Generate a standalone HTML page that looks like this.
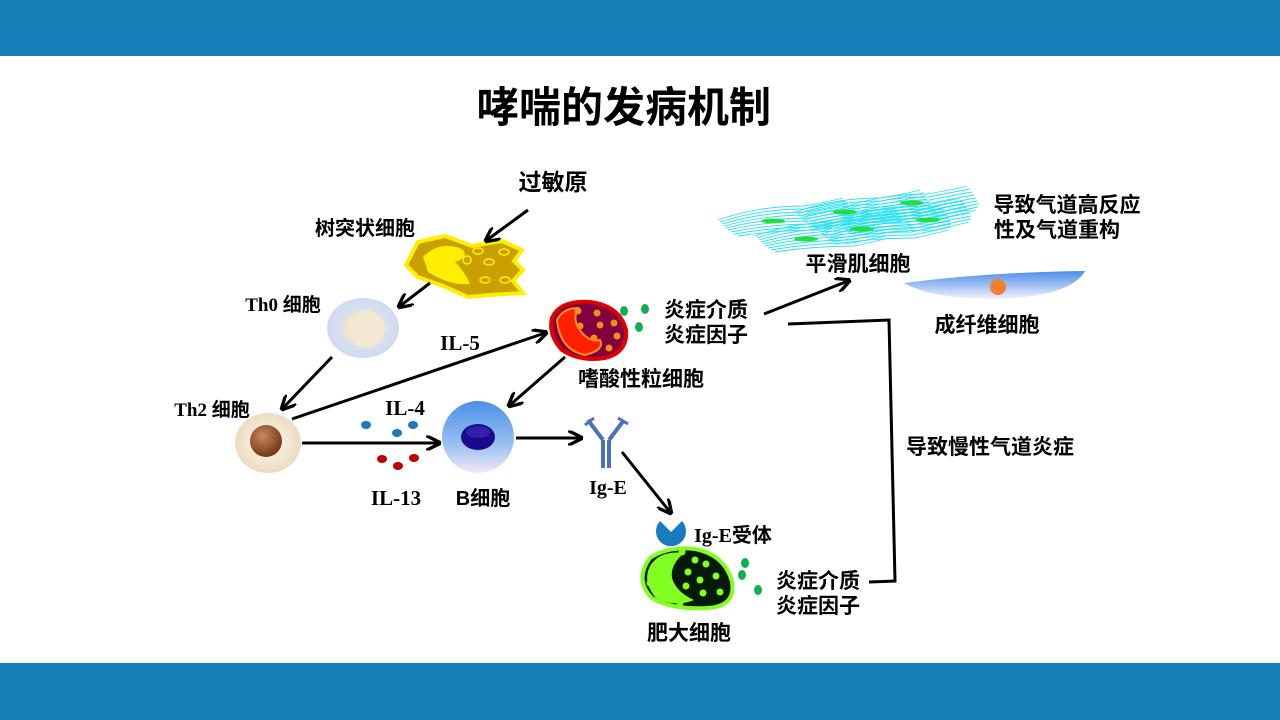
<!DOCTYPE html>
<html><head><meta charset="utf-8"><style>
html,body{margin:0;padding:0;background:#fff;}
svg{display:block}
text{font-family:"Liberation Sans","Noto Sans CJK SC",sans-serif;font-weight:bold;fill:#000}
.s{font-family:"Liberation Serif","Noto Sans CJK SC",serif}
</style></head><body>
<svg width="1280" height="720" viewBox="0 0 1280 720" xmlns="http://www.w3.org/2000/svg">
<defs>
<marker id="a" viewBox="0 0 10 10" refX="8" refY="5" markerWidth="5" markerHeight="5" orient="auto"><path d="M0,0 L10,5 L0,10" fill="none" stroke="#000" stroke-width="2.2"/></marker>
<radialGradient id="th0" cx="50%" cy="50%" r="50%"><stop offset="0" stop-color="#f3ecd8"/><stop offset="0.55" stop-color="#eee3c8"/><stop offset="0.6" stop-color="#d8e0f0"/><stop offset="1" stop-color="#d0daf0"/></radialGradient>
<radialGradient id="th2" cx="50%" cy="50%" r="50%"><stop offset="0" stop-color="#fdfaf0"/><stop offset="1" stop-color="#ecdcc0"/></radialGradient>
<radialGradient id="nuc" cx="40%" cy="35%" r="60%"><stop offset="0" stop-color="#c88a5a"/><stop offset="1" stop-color="#7a3e1c"/></radialGradient>
<linearGradient id="bc" x1="0" y1="0" x2="0" y2="1"><stop offset="0" stop-color="#4a90e8"/><stop offset="0.6" stop-color="#9ac0f0"/><stop offset="1" stop-color="#f0e8f8"/></linearGradient>
<linearGradient id="fb" x1="0" y1="0" x2="0" y2="1"><stop offset="0" stop-color="#4a8ee8"/><stop offset="1" stop-color="#f4f0ff"/></linearGradient>
<g id="sm" fill="none" stroke="#30e0f0" stroke-width="0.9">
<path d="M0,22 Q40,8 85,8 Q110,4 125,0"/>
<path d="M2,24 Q42,11 86,11 Q112,6 128,3"/>
<path d="M4,26 Q44,14 88,14 Q113,9 130,6"/>
<path d="M6,28 Q46,17 90,17 Q115,12 132,9"/>
<path d="M8,30 Q48,20 92,20 Q117,15 134,12"/>
<path d="M10,32 Q50,23 94,23 Q118,18 135,15"/>
<path d="M13,34 Q53,26 96,26 Q120,21 136,18"/>
<path d="M16,36 Q56,29 98,29 Q121,24 136,21"/>
<path d="M20,38 Q60,32 100,32 Q122,27 134,24"/>
</g>
</defs>
<rect x="0" y="0" width="1280" height="56" fill="#1580b8"/>
<rect x="0" y="663" width="1280" height="57" fill="#1580b8"/>
<text x="624" y="122" font-size="42" text-anchor="middle">哮喘的发病机制</text>

<text x="553" y="190" font-size="23" text-anchor="middle">过敏原</text>
<text x="365" y="235" font-size="20" text-anchor="middle">树突状细胞</text>
<path d="M418,242 L445,236 L472,246 L502,241 L522,250 L514,261 L523,270 L513,281 L523,293 L490,295 L468,297 L443,286 L418,277 L406,265 Z" fill="#c9a000" stroke="#ffee00" stroke-width="4"/>
<path d="M423,257 Q440,240 462,249 Q470,257 455,262 Q465,272 470,284 Q450,286 428,272 Z" fill="#ffee00"/>
<g fill="none" stroke="#ffee00" stroke-width="1.5"><ellipse cx="478" cy="251" rx="5" ry="3"/><ellipse cx="467" cy="260" rx="4" ry="4"/><ellipse cx="489" cy="262" rx="5" ry="3"/><ellipse cx="504" cy="252" rx="5" ry="3"/><ellipse cx="485" cy="280" rx="5" ry="3"/><ellipse cx="505" cy="280" rx="5" ry="3"/></g>

<text x="283" y="311" font-size="19" text-anchor="middle" class="s">Th0 <tspan font-family="Liberation Sans,Noto Sans CJK SC">细胞</tspan></text>
<ellipse cx="363" cy="328" rx="36" ry="30" fill="url(#th0)"/>
<circle cx="366" cy="329" r="19" fill="#f2e8cf"/>

<text x="212" y="416" font-size="19" text-anchor="middle" class="s">Th2 <tspan font-family="Liberation Sans,Noto Sans CJK SC">细胞</tspan></text>
<ellipse cx="268" cy="443" rx="33" ry="30" fill="url(#th2)"/>
<circle cx="266" cy="441" r="16" fill="url(#nuc)"/>

<text x="460" y="350" font-size="21" text-anchor="middle" class="s">IL-5</text>
<text x="405" y="415" font-size="21" text-anchor="middle" class="s">IL-4</text>
<text x="396" y="505" font-size="21" text-anchor="middle" class="s">IL-13</text>
<g fill="#1a7ac0"><ellipse cx="366" cy="425" rx="5" ry="4"/><ellipse cx="397" cy="433" rx="5" ry="4"/><ellipse cx="413" cy="425" rx="5" ry="4"/></g>
<g fill="#c00000"><ellipse cx="382" cy="459" rx="5" ry="4"/><ellipse cx="398" cy="466" rx="5" ry="4"/><ellipse cx="414" cy="458" rx="5" ry="4"/></g>

<circle cx="478" cy="437" r="36" fill="url(#bc)"/>
<ellipse cx="478" cy="437" rx="17" ry="13" fill="#1a0a8a"/>
<ellipse cx="478" cy="432" rx="12" ry="6" fill="#3020b0"/>
<text x="483" y="505" font-size="20" text-anchor="middle">B细胞</text>

<path d="M552,318 Q560,300 590,302 Q620,306 626,330 Q628,352 605,358 Q580,362 562,350 Q548,335 552,318Z" fill="#800040" stroke="#e00000" stroke-width="4"/>
<path d="M557,320 Q563,308 578,308 Q572,320 580,330 Q588,342 600,340 Q605,350 585,355 Q560,350 557,320Z" fill="#ff2000" stroke="#ff9020" stroke-width="2"/>
<g fill="#f0901a"><circle cx="578" cy="311" r="3.5"/><circle cx="597" cy="313" r="3.5"/><circle cx="580" cy="326" r="3.5"/><circle cx="600" cy="325" r="3.5"/><circle cx="614" cy="323" r="3.5"/><circle cx="594" cy="338" r="3.5"/><circle cx="617" cy="336" r="3.5"/><circle cx="609" cy="348" r="3.5"/></g>
<g fill="#10b050"><ellipse cx="624" cy="311" rx="4" ry="5"/><ellipse cx="645" cy="309" rx="4" ry="5"/><ellipse cx="639" cy="327" rx="4" ry="5"/></g>
<text x="641" y="386" font-size="21" text-anchor="middle">嗜酸性粒细胞</text>
<text x="706" y="317" font-size="21" text-anchor="middle">炎症介质</text>
<text x="706" y="342" font-size="21" text-anchor="middle">炎症因子</text>

<g stroke="#4a70c0" stroke-width="4" fill="none"><path d="M603,440 L603,468 M609,440 L609,468"/><path d="M603,440 L588,420 M609,440 L624,420"/><path d="M594,418 L585,425 M618,418 L628,424" stroke-width="3"/></g>
<text x="608" y="494" font-size="20" text-anchor="middle" class="s">Ig-E</text>

<path d="M660,521 L671,532 L682,521 A15,15 0 1 1 660,521 Z" fill="#1a7ac0"/>
<text x="733" y="542" font-size="20" text-anchor="middle" class="s">Ig-E<tspan font-family="Liberation Sans,Noto Sans CJK SC">受体</tspan></text>
<path d="M650,558 Q668,546 695,549 Q725,555 732,582 Q736,606 708,608 Q672,610 652,598 Q634,580 650,558Z" fill="#051a05" stroke="#80ff20" stroke-width="4"/>
<path d="M650,566 Q660,550 684,553 Q670,565 672,578 Q676,592 694,600 Q675,608 656,598 Q642,582 650,566Z" fill="#80ff20"/>
<g fill="#80ff20"><circle cx="682" cy="552" r="3.5"/><circle cx="695" cy="560" r="3.5"/><circle cx="688" cy="572" r="3.5"/><circle cx="706" cy="564" r="3.5"/><circle cx="700" cy="580" r="3.5"/><circle cx="716" cy="576" r="3.5"/><circle cx="703" cy="593" r="3.5"/><circle cx="720" cy="592" r="3.5"/><circle cx="686" cy="586" r="3.5"/><circle cx="650" cy="583" r="3.5"/><circle cx="680" cy="603" r="3.5"/></g>
<g fill="#10b050"><ellipse cx="745" cy="563" rx="4" ry="5"/><ellipse cx="742" cy="575" rx="4" ry="5"/><ellipse cx="758" cy="590" rx="4" ry="5"/></g>
<text x="689" y="640" font-size="21" text-anchor="middle">肥大细胞</text>
<text x="818" y="588" font-size="21" text-anchor="middle">炎症介质</text>
<text x="818" y="613" font-size="21" text-anchor="middle">炎症因子</text>

<use href="#sm" x="718" y="198"/>
<use href="#sm" x="795" y="190"/>
<use href="#sm" x="842" y="186"/>
<use href="#sm" x="755" y="214"/>
<use href="#sm" x="815" y="206"/>
<use href="#sm" x="835" y="198"/>
<g fill="#20e040"><ellipse cx="773" cy="221" rx="12" ry="2.5"/><ellipse cx="845" cy="212" rx="12" ry="2.5"/><ellipse cx="912" cy="203" rx="12" ry="2.5"/><ellipse cx="806" cy="239" rx="12" ry="2.5"/><ellipse cx="862" cy="229" rx="12" ry="2.5"/><ellipse cx="928" cy="220" rx="12" ry="2.5"/></g>
<text x="858" y="271" font-size="21" text-anchor="middle">平滑肌细胞</text>
<text x="1067" y="212" font-size="21" text-anchor="middle">导致气道高反应</text>
<text x="1057" y="237" font-size="21" text-anchor="middle">性及气道重构</text>
<path d="M904,283 Q990,272 1085,271 Q1070,298 990,299 Q930,298 904,283Z" fill="url(#fb)"/>
<circle cx="998" cy="287" r="8" fill="#f08030"/>
<text x="987" y="332" font-size="21" text-anchor="middle">成纤维细胞</text>
<text x="990" y="454" font-size="21" text-anchor="middle">导致慢性气道炎症</text>

<g stroke="#000" stroke-width="3" fill="none" marker-end="url(#a)">
<line x1="528" y1="210" x2="487" y2="240"/>
<line x1="430" y1="283" x2="400" y2="306"/>
<line x1="332" y1="357" x2="283" y2="408"/>
<line x1="292" y1="419" x2="545" y2="333"/>
<line x1="302" y1="443" x2="438" y2="443"/>
<line x1="565" y1="357" x2="510" y2="405"/>
<line x1="516" y1="438" x2="580" y2="438"/>
<line x1="622" y1="452" x2="670" y2="512"/>
<line x1="764" y1="314" x2="848" y2="281"/>
</g>
<polyline points="788,324 889,320 895,581 869,582" fill="none" stroke="#000" stroke-width="3"/>
</svg>
</body></html>
